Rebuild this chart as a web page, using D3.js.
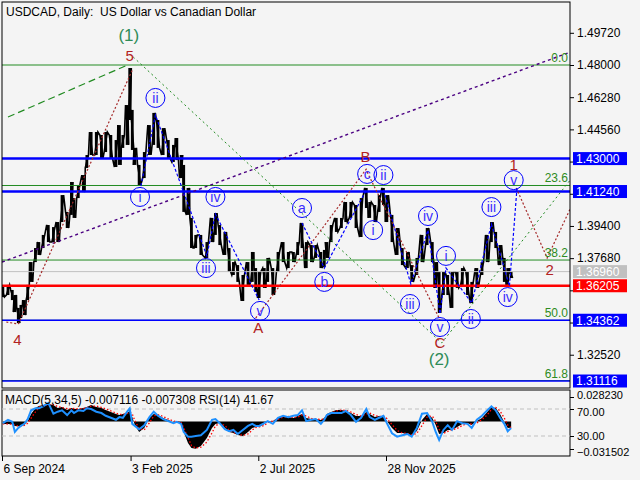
<!DOCTYPE html>
<html><head><meta charset="utf-8">
<script src="https://cdn.jsdelivr.net/npm/d3@7"></script>
<style>
body{margin:0;background:#f4f4f4}
svg{display:block}
text{font-family:"Liberation Sans",Arial,sans-serif}
</style>
</head><body><svg id="c" width="640" height="480"></svg>
<script>
// ---------- data ----------
const dates = [
"2024-09-07","2024-09-13","2024-09-18","2024-09-21","2024-09-25","2024-09-28","2024-10-02","2024-10-06","2024-10-10","2024-10-15",
"2024-10-19","2024-10-24","2024-10-30","2024-11-05","2024-11-10","2024-11-15","2024-11-21","2024-11-26","2024-11-29","2024-12-04",
"2024-12-10","2024-12-14","2024-12-19","2024-12-25","2024-12-31","2025-01-05","2025-01-11","2025-01-17","2025-01-21","2025-01-25",
"2025-01-30","2025-02-02","2025-02-05","2025-02-08","2025-02-13","2025-02-19","2025-02-25","2025-03-02","2025-03-07","2025-03-13",
"2025-03-19","2025-03-25","2025-03-29","2025-04-03","2025-04-06","2025-04-11","2025-04-15","2025-04-20","2025-04-26","2025-05-03",
"2025-05-09","2025-05-13","2025-05-18","2025-05-24","2025-05-29","2025-06-03","2025-06-08","2025-06-14","2025-06-20","2025-06-25",
"2025-06-29","2025-07-03","2025-07-09","2025-07-13","2025-07-19","2025-07-25","2025-07-31","2025-08-06","2025-08-12","2025-08-17",
"2025-08-22","2025-08-27","2025-09-02","2025-09-07","2025-09-13","2025-09-17","2025-09-20","2025-09-25","2025-10-01","2025-10-07",
"2025-10-12","2025-10-18","2025-10-24","2025-10-30","2025-11-05","2025-11-09","2025-11-15","2025-11-20","2025-11-25","2025-11-29",
"2025-12-05","2025-12-11","2025-12-17","2025-12-23","2025-12-28","2026-01-03","2026-01-09","2026-01-15","2026-01-21","2026-01-25",
"2026-01-29","2026-02-03","2026-02-08","2026-02-13","2026-02-19","2026-02-25","2026-03-03","2026-03-08","2026-03-14","2026-03-20",
"2026-03-26","2026-03-31","2026-04-05","2026-04-10","2026-04-15","2026-04-19","2026-04-23"];

const highs = [
1.3614,1.3625,1.3598,1.3571,1.3502,1.3518,1.3544,1.3625,1.3747,1.3822,
1.3854,1.3892,1.3945,1.3934,1.3961,1.4105,1.4015,1.4175,1.4089,1.4159,
1.4212,1.4319,1.4442,1.4442,1.4426,1.4442,1.4426,1.4399,1.4479,1.4426,
1.4586,1.4784,1.4560,1.4357,1.4266,1.4335,1.4479,1.4544,1.4506,1.4463,
1.4399,1.4373,1.4410,1.4319,1.4266,1.4143,1.3983,1.3892,1.3892,1.3854,
1.3983,1.4009,1.3945,1.3908,1.3822,1.3747,1.3731,1.3678,1.3747,1.3801,
1.3715,1.3694,1.3715,1.3769,1.3715,1.3801,1.3854,1.3801,1.3801,1.3854,
1.3956,1.3854,1.3838,1.3838,1.3801,1.3812,1.3854,1.3945,1.3983,1.3983,
1.4068,1.4068,1.4052,1.4089,1.4143,1.4068,1.4052,1.4105,1.4143,1.4105,
1.3999,1.3929,1.3822,1.3801,1.3731,1.3769,1.3892,1.3929,1.3854,1.3747,
1.3694,1.3694,1.3678,1.3694,1.3694,1.3715,1.3694,1.3641,1.3715,1.3747,
1.3892,1.3961,1.3908,1.3838,1.3769,1.3715,1.3694];

const lows = [
1.3560,1.3571,1.3544,1.3480,1.3421,1.3448,1.3464,1.3544,1.3641,1.3747,
1.3785,1.3822,1.3854,1.3854,1.3854,1.3961,1.3929,1.3999,1.3983,1.4089,
1.4121,1.4250,1.4319,1.4319,1.4303,1.4335,1.4303,1.4255,1.4266,1.4357,
1.4373,1.4506,1.4346,1.4266,1.4159,1.4196,1.4319,1.4373,1.4357,1.4319,
1.4303,1.4282,1.4292,1.4196,1.4015,1.3999,1.3822,1.3822,1.3785,1.3769,
1.3854,1.3892,1.3838,1.3785,1.3694,1.3678,1.3641,1.3539,1.3625,1.3641,
1.3587,1.3555,1.3609,1.3641,1.3571,1.3694,1.3747,1.3715,1.3747,1.3785,
1.3822,1.3715,1.3747,1.3769,1.3715,1.3721,1.3769,1.3854,1.3908,1.3929,
1.3961,1.3983,1.3929,1.3881,1.4036,1.3983,1.3961,1.4015,1.4052,1.3961,
1.3854,1.3785,1.3731,1.3715,1.3641,1.3678,1.3747,1.3838,1.3747,1.3609,
1.3475,1.3571,1.3571,1.3502,1.3609,1.3625,1.3571,1.3528,1.3609,1.3678,
1.3747,1.3854,1.3822,1.3731,1.3641,1.3625,1.3662];

const macd = [
-0.0028,-0.0028,-0.0030,-0.0050,-0.0055,-0.0050,-0.0040,0.0007,0.0087,0.0156,
0.0179,0.0190,0.0202,0.0190,0.0156,0.0168,0.0133,0.0156,0.0145,0.0145,
0.0156,0.0168,0.0190,0.0168,0.0156,0.0133,0.0110,0.0087,0.0076,0.0087,
0.0099,0.0122,0.0053,-0.0039,-0.0119,-0.0074,0.0041,0.0087,0.0076,0.0041,
0.0018,-0.0005,0.0007,-0.0028,-0.0119,-0.0246,-0.0303,-0.0312,-0.0280,-0.0188,
-0.0074,-0.0028,-0.0016,-0.0074,-0.0119,-0.0131,-0.0154,-0.0165,-0.0119,-0.0074,
-0.0062,-0.0062,-0.0028,0.0007,0.0007,0.0041,0.0064,0.0053,0.0041,0.0064,
0.0087,0.0041,0.0030,0.0030,0.0018,0.0041,0.0087,0.0110,0.0133,0.0133,
0.0122,0.0099,0.0064,0.0064,0.0110,0.0087,0.0053,0.0064,0.0064,0.0007,
-0.0074,-0.0131,-0.0131,-0.0142,-0.0165,-0.0108,0.0018,0.0087,0.0041,-0.0039,
-0.0142,-0.0131,-0.0096,-0.0096,-0.0062,-0.0028,-0.0016,-0.0039,0.0007,0.0041,
0.0110,0.0168,0.0156,0.0087,-0.0005,-0.0074,-0.007116];

const signal = [
-0.0025,-0.0028,-0.0029,-0.0040,-0.0050,-0.0052,-0.0045,-0.0020,0.0040,0.0110,
0.0165,0.0183,0.0195,0.0195,0.0172,0.0162,0.0150,0.0145,0.0150,0.0145,
0.0150,0.0160,0.0178,0.0178,0.0162,0.0145,0.0122,0.0098,0.0082,0.0082,
0.0093,0.0110,0.0088,0.0010,-0.0080,-0.0095,-0.0015,0.0065,0.0080,0.0058,
0.0030,0.0006,0.0001,-0.0012,-0.0070,-0.0185,-0.0275,-0.0305,-0.0295,-0.0235,
-0.0130,-0.0050,-0.0022,-0.0045,-0.0097,-0.0125,-0.0142,-0.0160,-0.0142,-0.0097,
-0.0068,-0.0062,-0.0045,-0.0010,0.0007,0.0024,0.0052,0.0058,0.0047,0.0052,
0.0075,0.0064,0.0036,0.0030,0.0024,0.0030,0.0064,0.0098,0.0122,0.0133,
0.0128,0.0110,0.0082,0.0064,0.0087,0.0098,0.0070,0.0058,0.0064,0.0035,
-0.0034,-0.0102,-0.0131,-0.0136,-0.0154,-0.0136,-0.0045,0.0052,0.0064,0.0001,
-0.0090,-0.0136,-0.0113,-0.0096,-0.0079,-0.0045,-0.0022,-0.0028,-0.0016,0.0024,
0.0075,0.0139,0.0162,0.0122,0.0041,-0.0040,-0.007308];

const rsi = [
49,54,51,36,42,45,48,55,68,71,
71,74,79,63,66,68,61,68,64,68,
67,71,70,66,64,60,57,54,58,57,
66,71,48,45,40,46,58,66,60,55,
52,49,51,48,36,29,29,30,31,39,
54,55,49,40,37,39,33,39,45,48,
45,45,49,52,48,57,60,58,60,61,
68,52,54,55,48,54,61,64,64,64,
67,61,51,57,70,58,54,57,60,49,
34,29,31,33,29,42,63,64,51,36,
24,39,46,39,52,49,48,42,54,60,
68,74,68,57,48,37,41.67];

// price axis ticks: all tick marks, and the ones whose labels remain visible
const priceTicks = [1.4972,1.48,1.4628,1.4456,1.4284,1.4112,1.394,1.3768,1.3596,1.3424,1.3252];
const priceTickLabels = [1.4972,1.48,1.4628,1.4456,1.394,1.3768,1.3252];
const dateTicks = ["2024-09-06","2025-02-03","2025-07-02","2025-11-28"];
const macdTicks = [0.028230,-0.031502];
const rsiTicks = [70,30];

// horizontal levels with price boxes
const levelPrices = [1.43000,1.41240,1.36960,1.36205,1.34362,1.31116];
const levelKinds  = ["blueThick","blueThick","bid","red","blue","blue"];

// Fibonacci grid (0% at 1.48000, 100% at 1.20720)
const fibHigh = 1.48000, fibLow = 1.20720;
const fibPercents = [0.0,23.6,38.2,50.0,61.8];
const fibLabels = ["0.0","23.6","38.2","50.0","61.8"];

// wave labels
const waveText  = ["(1)","5","4","A","B","C","(2)","1","2"];
const waveDate  = ["2025-02-01","2025-02-02","2024-09-24","2025-07-02","2025-11-04","2026-01-30","2026-01-29","2026-04-26","2026-06-07"];
const wavePrice = [1.4960,1.4848,1.3331,1.3395,1.4308,1.3318,1.3230,1.4268,1.3705];
const waveKind  = ["major","minor","minor","minor","minor","minor","major","minor","minor"];

const subText  = ["ii","i","iv","iii","v","a","b","c","ii","i","iv","iii","v","i","ii","iii","iv","v"];
const subDate  = ["2025-03-04","2025-02-14","2025-05-13","2025-05-02","2025-07-04","2025-08-22","2025-09-17","2025-11-06","2025-11-25","2025-11-13","2026-01-16","2025-12-26","2026-01-30","2026-02-06","2026-03-07","2026-03-31","2026-04-19","2026-04-26"];
const subPrice = [1.4624,1.4095,1.4095,1.3715,1.3486,1.4036,1.3641,1.4218,1.4212,1.3918,1.3993,1.3523,1.3400,1.3780,1.3443,1.4041,1.3560,1.4185];

// trend / wave lines [date, price]
const greenTrend   = [["2024-09-13",1.4522],["2025-01-28",1.4795]];
const greenFan     = [["2025-02-06",1.4843],["2026-02-01",1.3315],["2026-07-01",1.4186]];
const purpleLine   = [["2024-09-06",1.3747],["2026-07-01",1.4869]];
const redWaves = [
  [["2024-09-11",1.3427],["2024-09-25",1.3416]],
  [["2024-09-25",1.3416],["2025-02-05",1.4773]],
  [["2025-06-29",1.3448],["2025-11-06",1.4250]],
  [["2025-11-06",1.4228],["2026-01-30",1.3438]],
  [["2026-04-29",1.4143],["2026-06-04",1.3769],["2026-07-03",1.4052]]
];
const blueWaves = [
  [["2025-02-15",1.4153],["2025-03-04",1.4533],["2025-05-03",1.3780],["2025-05-13",1.4004],["2025-07-03",1.3544]],
  [["2025-08-22",1.3956],["2025-09-17",1.3715],["2025-11-05",1.4132]],
  [["2025-11-25",1.4132],["2025-12-27",1.3630],["2026-01-16",1.3918],["2026-01-30",1.3475]],
  [["2026-01-30",1.3475],["2026-02-06",1.3715],["2026-03-08",1.3528],["2026-03-31",1.3950],["2026-04-21",1.3619],["2026-04-30",1.4153]]
];

const titleText = "USDCAD, Daily:  US Dollar vs Canadian Dollar";
const subTitle = "MACD(5,34,5) -0.007116 -0.007308 RSI(14) 41.67";

// ---------- layout ----------
const L = 2, R = 570, T = 2, B = 388, ST = 390, SB = 456;
const parse = d3.utcParse("%Y-%m-%d");
const svg = d3.select("#c");
svg.append("rect").attr("width",640).attr("height",480).attr("fill","#f4f4f4");

const x = d3.scaleUtc().domain([parse("2024-09-06"), parse("2025-11-28")]).range([2, 386]);
const y = d3.scaleLinear().domain([1.31116, 1.48]).range([381, 65]);
const yM = d3.scaleLinear().domain([-0.031502, 0.028230]).range([449, 397]);
const yR = d3.scaleLinear().domain([30, 70]).range([436, 409]);

const defs = svg.append("defs");
defs.append("clipPath").attr("id","cm").append("rect").attr("x",L).attr("y",T).attr("width",R-L).attr("height",B-T);
defs.append("clipPath").attr("id","cs").append("rect").attr("x",L).attr("y",ST).attr("width",R-L).attr("height",SB-ST);

const main = svg.append("g").attr("clip-path","url(#cm)");

// price bars
const pts = [];
dates.forEach((d,i)=>{
  const xx = x(parse(d));
  if(i%2===0){ pts.push([xx-1.6,y(highs[i])],[xx+1.6,y(lows[i])]); }
  else { pts.push([xx-1.6,y(lows[i])],[xx+1.6,y(highs[i])]); }
});
main.append("path").attr("d", d3.line()(pts)).attr("fill","none").attr("stroke","#000").attr("stroke-width",1.6);
main.selectAll("rect.bar").data(dates).join("rect").attr("class","bar")
  .attr("x", d=>x(parse(d))-1.4).attr("width",2.8)
  .attr("y",(d,i)=>y(highs[i])).attr("height",(d,i)=>Math.max(1,y(lows[i])-y(highs[i])))
  .attr("fill","#000");

const lineGen = d3.line().x(p=>x(parse(p[0]))).y(p=>y(p[1]));

// fib lines
fibPercents.forEach((p,i)=>{
  const pr = fibHigh - p/100*(fibHigh-fibLow);
  main.append("line").attr("x1",L).attr("x2",R).attr("y1",y(pr)).attr("y2",y(pr))
    .attr("stroke","#228b22").attr("stroke-width",1);
  svg.append("text").attr("x",R-2).attr("y",y(pr)-3).attr("text-anchor","end")
    .attr("font-size",12).attr("fill","#2e8b22").text(fibLabels[i]);
});

// key levels
const levelStyle = {
  blueThick:{c:"#0000ff",w:2.5},
  blue:{c:"#0000ff",w:1.5},
  red:{c:"#ff0000",w:2.5},
  bid:{c:"#c0c0c0",w:1}
};
levelPrices.forEach((p,i)=>{
  const s = levelStyle[levelKinds[i]];
  main.append("line").attr("x1",L).attr("x2",R).attr("y1",y(p)).attr("y2",y(p))
    .attr("stroke",s.c).attr("stroke-width",s.w);
});

// trend lines
main.append("path").attr("d",lineGen(greenTrend)).attr("fill","none").attr("stroke","#228b22").attr("stroke-width",1.2).attr("stroke-dasharray","7,4");
main.append("path").attr("d",lineGen(greenFan)).attr("fill","none").attr("stroke","#228b22").attr("stroke-width",1).attr("stroke-dasharray","2,3");
main.append("path").attr("d",lineGen(purpleLine)).attr("fill","none").attr("stroke","#4b0082").attr("stroke-width",1.4).attr("stroke-dasharray","3,3");
redWaves.forEach(w=>main.append("path").attr("d",lineGen(w)).attr("fill","none").attr("stroke","#a52a2a").attr("stroke-width",1.2).attr("stroke-dasharray","2,2"));
blueWaves.forEach(w=>main.append("path").attr("d",lineGen(w)).attr("fill","none").attr("stroke","#0000ff").attr("stroke-width",1.2).attr("stroke-dasharray","3,2"));

// wave labels (drawn under the circles)
waveText.forEach((t,i)=>{
  main.append("text").attr("x",x(parse(waveDate[i]))).attr("y",y(wavePrice[i])).attr("dy","0.36em")
    .attr("text-anchor","middle").attr("font-size",waveKind[i]==="major"?17:15)
    .attr("fill",waveKind[i]==="major"?"#2e8b57":"#b22222").text(t);
});
// sub-wave circles
subText.forEach((t,i)=>{
  const cx = x(parse(subDate[i])), cy = y(subPrice[i]);
  main.append("circle").attr("cx",cx).attr("cy",cy).attr("r",9.5).attr("fill","none").attr("stroke","#0000ff").attr("stroke-width",1);
  main.append("text").attr("x",cx).attr("y",cy).attr("dy","0.36em").attr("text-anchor","middle")
    .attr("font-size",14).attr("fill","#3a2cff").text(t);
});

// title
svg.append("text").attr("x",6).attr("y",16).attr("font-size",12).attr("fill","#000")
  .attr("xml:space","preserve").style("white-space","pre").text(titleText);

// frames
svg.append("rect").attr("x",L).attr("y",T).attr("width",R-L).attr("height",B-T).attr("fill","none").attr("stroke","#000").attr("stroke-width",1);
svg.append("rect").attr("x",L).attr("y",ST).attr("width",R-L).attr("height",SB-ST).attr("fill","none").attr("stroke","#000").attr("stroke-width",1);

// price axis
const fmt5 = d3.format(".5f");
const ax = svg.append("g").attr("transform",`translate(${R},0)`)
  .call(d3.axisRight(y).tickValues(priceTicks).tickSize(4)
    .tickFormat(v=>priceTickLabels.includes(v)?fmt5(v):""));
ax.select(".domain").remove();
ax.selectAll("text").attr("font-size",12).attr("font-family","Liberation Sans, Arial, sans-serif");

// level price boxes
const boxColor = {blueThick:"#0000ff",blue:"#0000ff",red:"#ff0000",bid:"#c0c0c0"};
levelPrices.forEach((p,i)=>{
  svg.append("rect").attr("x",R+3).attr("y",y(p)-6.5).attr("width",54).attr("height",13).attr("fill",boxColor[levelKinds[i]]);
  svg.append("text").attr("x",R+6).attr("y",y(p)).attr("dy","0.36em").attr("font-size",12).attr("fill","#fff").text(fmt5(p));
});

// ---------- sub window ----------
const sub = svg.append("g").attr("clip-path","url(#cs)");
rsiTicks.forEach(v=>sub.append("line").attr("x1",L).attr("x2",R).attr("y1",yR(v)).attr("y2",yR(v))
  .attr("stroke","#c0c0c0").attr("stroke-dasharray","4,3"));
sub.append("path").attr("fill","#000")
  .attr("d", d3.area().x(d=>x(parse(d))).y0(yM(0)).y1((d,i)=>yM(macd[i]))(dates));
sub.append("path").attr("fill","none").attr("stroke","#ff0000").attr("stroke-width",1.3).attr("stroke-dasharray","1.5,2")
  .attr("d", d3.line().x(d=>x(parse(d))).y((d,i)=>yM(signal[i]))(dates));
sub.append("path").attr("fill","none").attr("stroke","#1e90ff").attr("stroke-width",2)
  .attr("d", d3.line().x(d=>x(parse(d))).y((d,i)=>yR(rsi[i]))(dates));
svg.append("text").attr("x",5).attr("y",404).attr("font-size",12).attr("fill","#000").text(subTitle);

const am = svg.append("g").attr("transform",`translate(${R},0)`)
  .call(d3.axisRight(yM).tickValues(macdTicks).tickSize(4).tickFormat(d3.format(".6f")));
am.select(".domain").remove();
am.selectAll("text").attr("font-size",11).attr("font-family","Liberation Sans, Arial, sans-serif");
am.selectAll(".tick").filter(d=>d>0).select("text").attr("dy","0.1em");
am.selectAll(".tick").filter(d=>d<0).select("text").attr("dy","0.55em");
const ar = svg.append("g").attr("transform",`translate(${R},0)`)
  .call(d3.axisRight(yR).tickValues(rsiTicks).tickSize(4).tickFormat(d3.format(".2f")));
ar.select(".domain").remove();
ar.selectAll("text").attr("font-size",11).attr("font-family","Liberation Sans, Arial, sans-serif");
ar.selectAll(".tick").filter(d=>d===70).select("text").attr("dy","0.6em");

// time axis
const at = svg.append("g").attr("transform",`translate(0,${SB})`)
  .call(d3.axisBottom(x).tickValues(dateTicks.map(parse)).tickSize(5).tickFormat(d3.utcFormat("%-d %b %Y")));
at.select(".domain").remove();
at.selectAll("text").attr("font-size",12).attr("font-family","Liberation Sans, Arial, sans-serif")
  .attr("text-anchor","start").attr("x",1);
</script>
</body></html>
